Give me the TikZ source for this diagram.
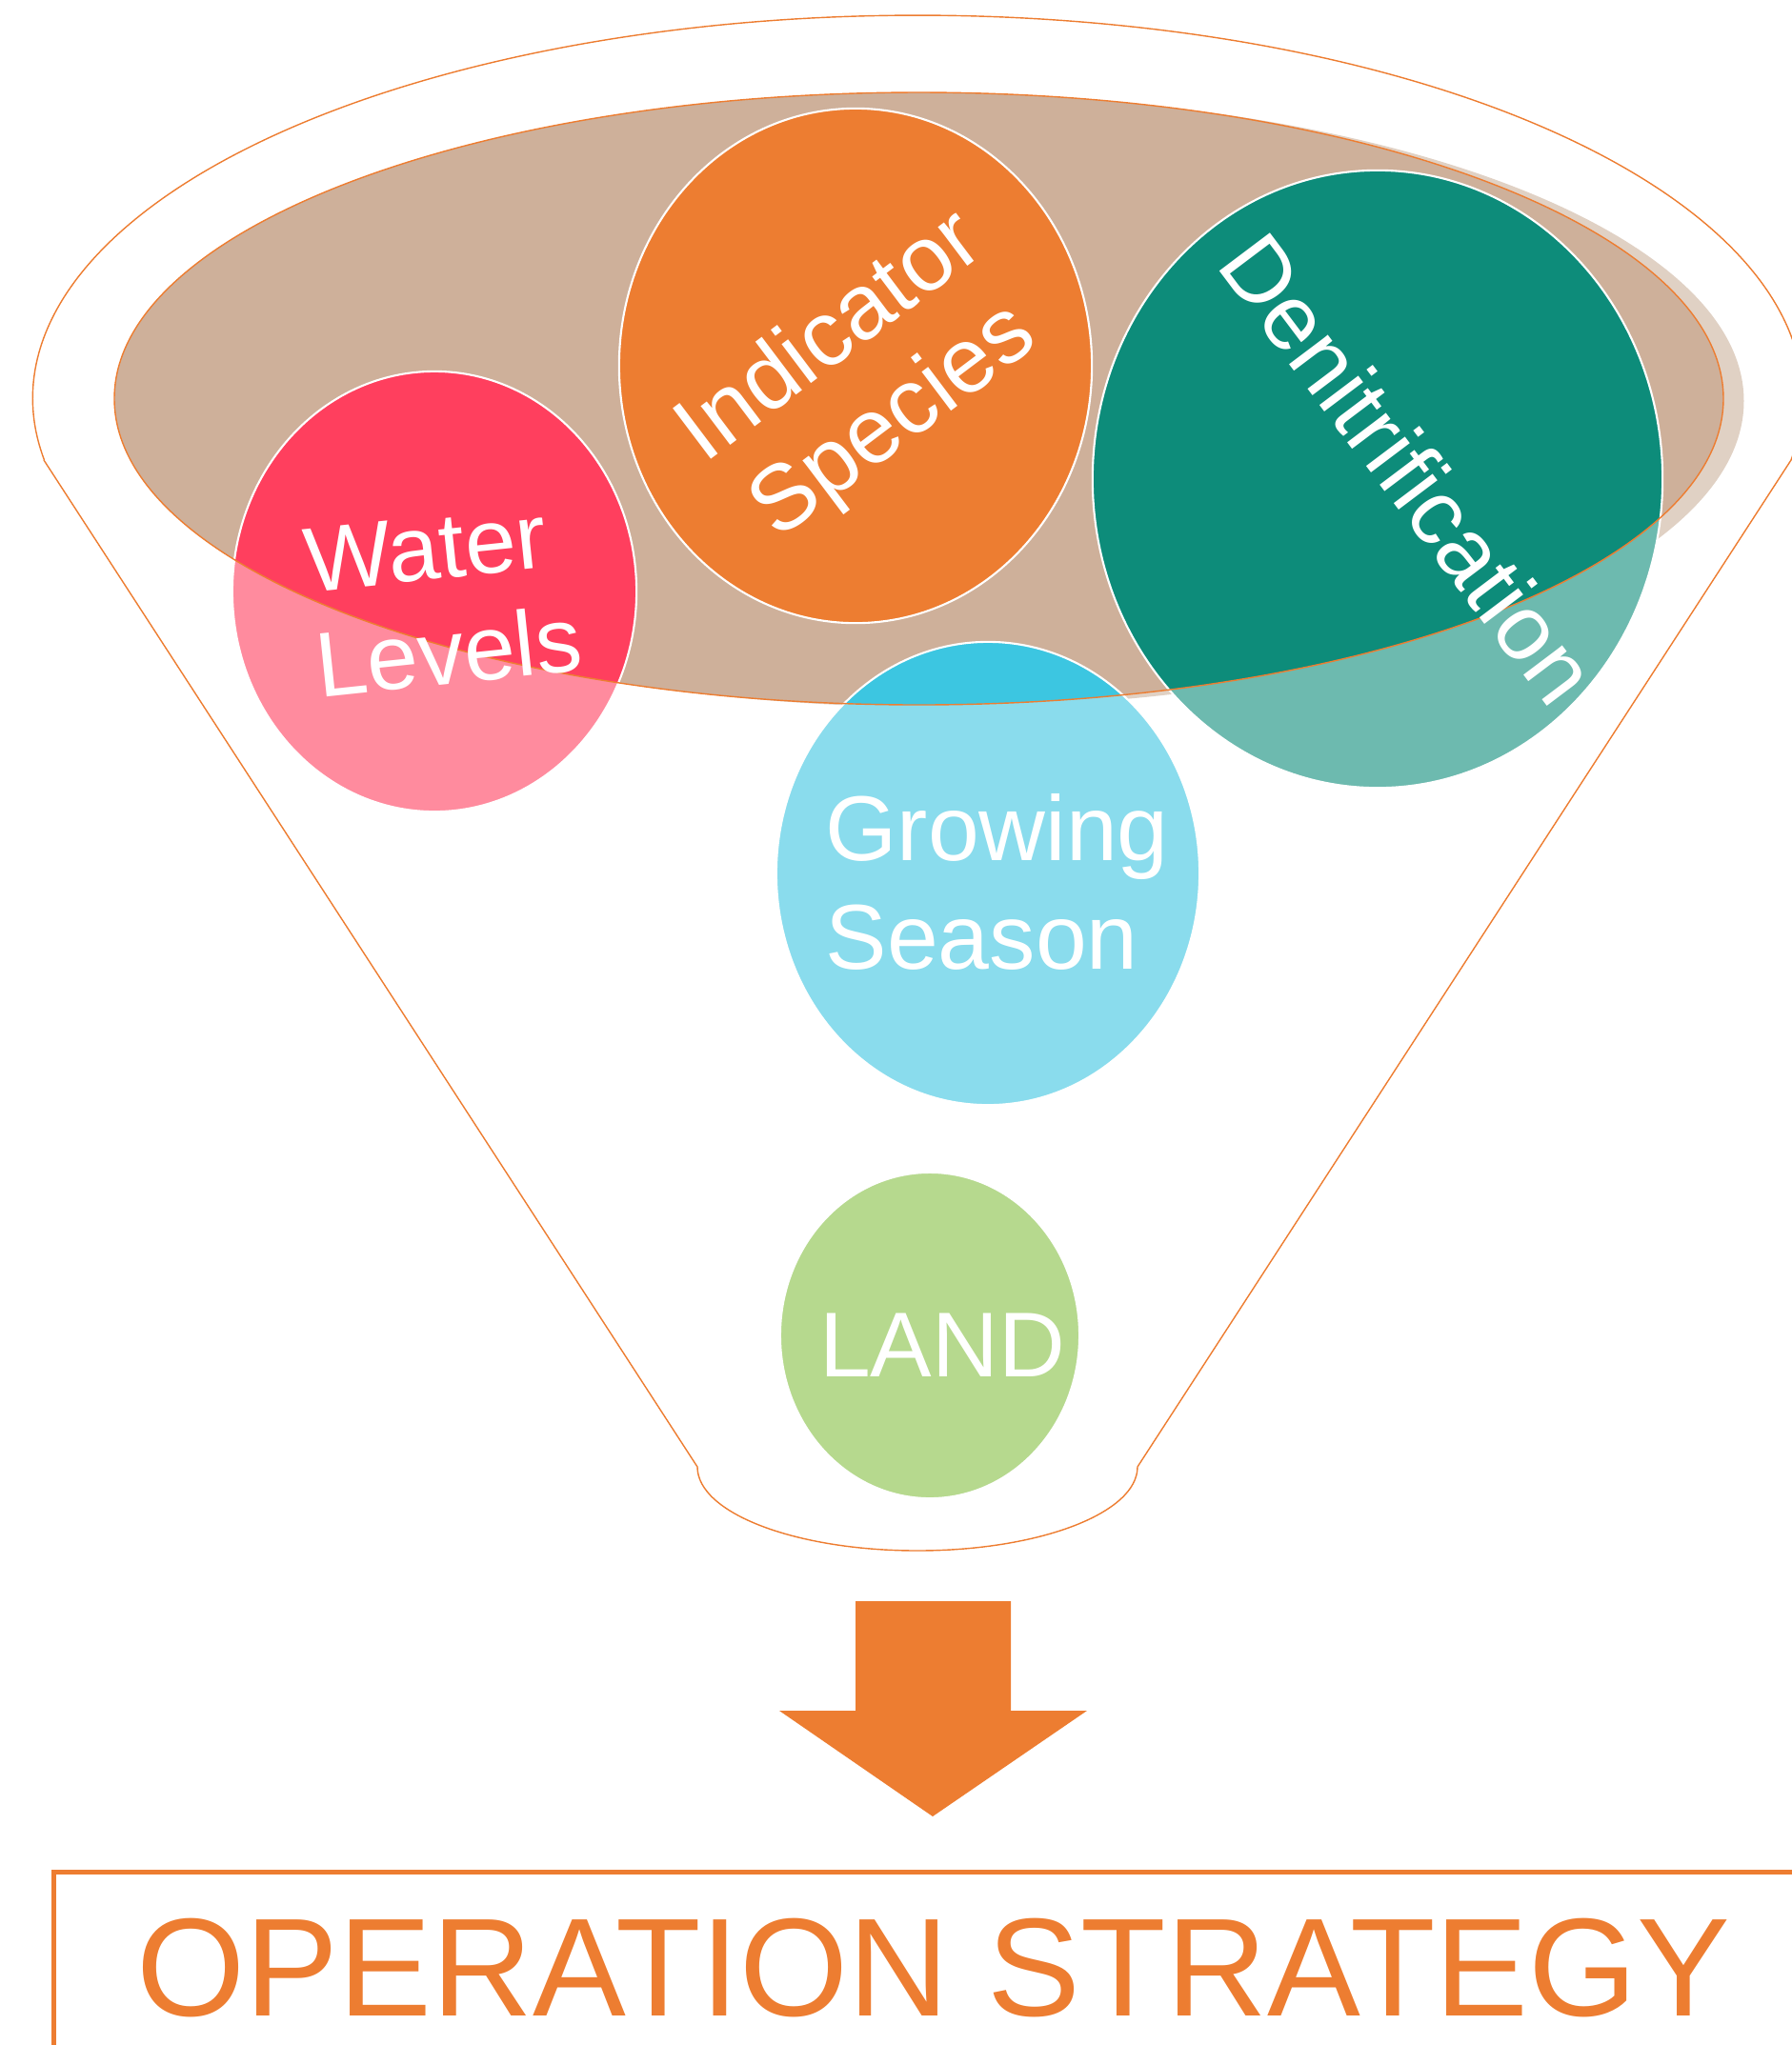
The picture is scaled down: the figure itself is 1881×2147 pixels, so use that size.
\documentclass[tikz,border=0pt]{standalone}
\usepackage{fontspec}
\setmainfont{Liberation Sans}
\usetikzlibrary{shapes.geometric}

\definecolor{funnelorange}{HTML}{ED7D31}
\definecolor{funnelbrown}{HTML}{CEB09A}
\definecolor{shadowbrown}{HTML}{E0D1C4}
\definecolor{waterpink}{HTML}{FF3F5E}
\definecolor{denitteal}{HTML}{0D8C7A}
\definecolor{seasoncyan}{HTML}{3CC6E1}
\definecolor{landgreen}{HTML}{86C044}

\begin{document}
\begin{tikzpicture}[x=0.01cm,y=0.01cm]
        \tikzstyle{every node} = [inner sep=0pt]
        \tikzstyle{bubble} = [ellipse, draw=white, line width=0.6pt]
        \tikzstyle{bubbletext} = [text=white, font=\fontsize{27.5}{31.5}\selectfont, align=center]
        \tikzstyle{rim} = [funnelorange, line width=0.4pt]
        \useasboundingbox (0,0) rectangle (1881,-2147);

        % funnel body
        \draw[rim] (46,-483) -- (732,-1540)
            arc[start angle=180, end angle=360, x radius=231, y radius=88]
            -- (1880,-483)
            arc[start angle=-9.3, end angle=189.3, x radius=929, y radius=402];

        % funnel mouth
        \fill[shadowbrown] (986,-421) ellipse[x radius=844.5, y radius=321.5];
        \fill[funnelbrown] (964.5,-418.5) ellipse[x radius=844.5, y radius=321.5];

        % bubbles
        \node[bubble, fill=waterpink, minimum width=4.24cm, minimum height=4.62cm] (water) at (456,-621) {};
        \node[bubble, fill=funnelorange, minimum width=4.96cm, minimum height=5.40cm] (species) at (898,-384) {};
        \node[bubble, fill=denitteal, minimum width=5.98cm, minimum height=6.48cm] (denit) at (1446,-503) {};
        \node[bubble, fill=seasoncyan, minimum width=4.44cm, minimum height=4.86cm] (season) at (1037,-917) {};
        \node[bubble, fill=landgreen, minimum width=3.14cm, minimum height=3.42cm] (land) at (976,-1402) {};

        % paler outside the mouth
        \begin{scope}[even odd rule]
            \clip (-50,50) rectangle (1950,-2200)
                (964.5,-418.5) ellipse[x radius=844.5, y radius=321.5];
            \foreach \b/\rx/\ry in {water/212/231, species/248/270, denit/299/324, season/222/243, land/157/171}
                \fill[white, fill opacity=0.4] (\b.center) ellipse[x radius=\rx, y radius=\ry];
        \end{scope}
        \draw[rim] (964.5,-418.5) ellipse[x radius=844.5, y radius=321.5];

        % labels
        \node[bubbletext, align=left, rotate=6] (watertxt) at (465,-630) {Water\\Levels};
        \node[bubbletext, rotate=37] (speciestxt) at (906,-400) {Indicator\\Species};
        \node[bubbletext, rotate=-53] (denittxt) at (1479,-492) {Denitrification};
        \node[bubbletext, align=left, anchor=west, font=\fontsize{27.5}{32.5}\selectfont] (seasontxt) at (866,-926) {Growing\\Season};
        \node[bubbletext] (landtxt) at (989,-1412) {LAND};

        % arrow
        \fill[funnelorange] (898,-1681) -- (1061,-1681) -- (1061,-1796) -- (1141,-1796)
            -- (979,-1907) -- (818,-1796) -- (898,-1796) -- cycle;

        % result
        \node[draw=funnelorange, line width=1.4pt, anchor=north west, minimum width=18.46cm,
            minimum height=2cm, text=funnelorange, font=\fontsize{41.7}{41.7}\selectfont]
            (strategy) at (54,-1963) {OPERATION STRATEGY};
\end{tikzpicture}
\end{document}
